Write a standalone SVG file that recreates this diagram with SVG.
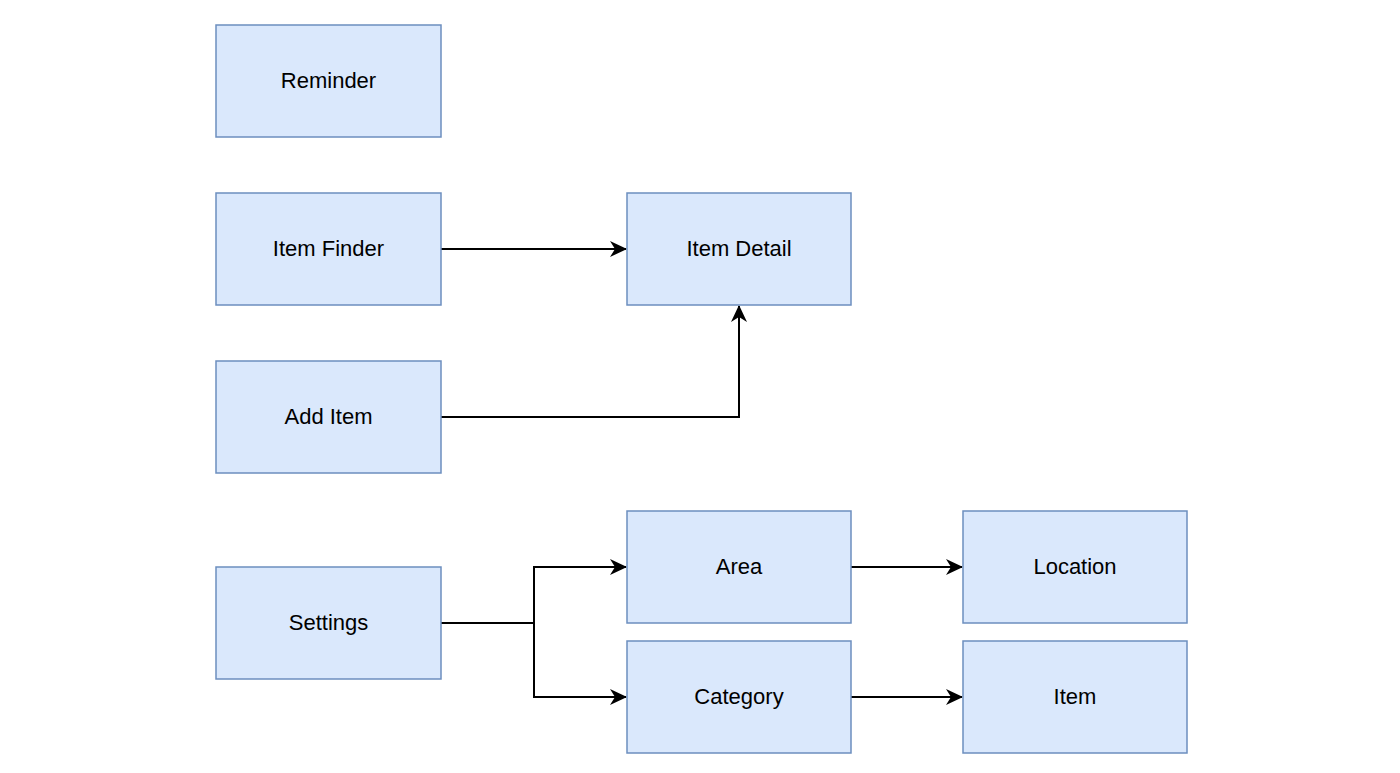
<svg xmlns="http://www.w3.org/2000/svg" width="1400" height="773" viewBox="0 0 1400 773">
<style>
.n rect{fill:#dae8fc;stroke:#6c8ebf;stroke-width:1.5}
.n text{font-family:"Liberation Sans",Arial,sans-serif;font-size:22px;fill:#000;text-anchor:middle;dominant-baseline:central}
.c path{fill:none;stroke:#000;stroke-width:2}
</style>
<defs>
<marker id="a" viewBox="0 0 17 16" refX="16" refY="8" markerWidth="17" markerHeight="16" markerUnits="userSpaceOnUse" orient="auto">
<path d="M0,0 L17,8 L0,16 L5,8 Z" fill="#000"/>
</marker>
</defs>
<rect width="1400" height="773" fill="#fff"/>
<g class="c">
<path d="M441,249 H626" marker-end="url(#a)"/>
<path d="M441,417 H739 V306" marker-end="url(#a)"/>
<path d="M441,623 H534 V567 H626" marker-end="url(#a)"/>
<path d="M534,623 V697 H626" marker-end="url(#a)"/>
<path d="M851,567 H962" marker-end="url(#a)"/>
<path d="M851,697 H962" marker-end="url(#a)"/>
</g>
<g id="reminder" class="n"><rect x="216" y="25" width="225" height="112"/><text x="328.5" y="80">Reminder</text></g>
<g id="itemfinder" class="n"><rect x="216" y="193" width="225" height="112"/><text x="328.5" y="248">Item Finder</text></g>
<g id="additem" class="n"><rect x="216" y="361" width="225" height="112"/><text x="328.5" y="416">Add Item</text></g>
<g id="settings" class="n"><rect x="216" y="567" width="225" height="112"/><text x="328.5" y="622">Settings</text></g>
<g id="itemdetail" class="n"><rect x="627" y="193" width="224" height="112"/><text x="739" y="248">Item Detail</text></g>
<g id="area" class="n"><rect x="627" y="511" width="224" height="112"/><text x="739" y="566">Area</text></g>
<g id="category" class="n"><rect x="627" y="641" width="224" height="112"/><text x="739" y="696">Category</text></g>
<g id="location" class="n"><rect x="963" y="511" width="224" height="112"/><text x="1075" y="566">Location</text></g>
<g id="item" class="n"><rect x="963" y="641" width="224" height="112"/><text x="1075" y="696">Item</text></g>
</svg>
